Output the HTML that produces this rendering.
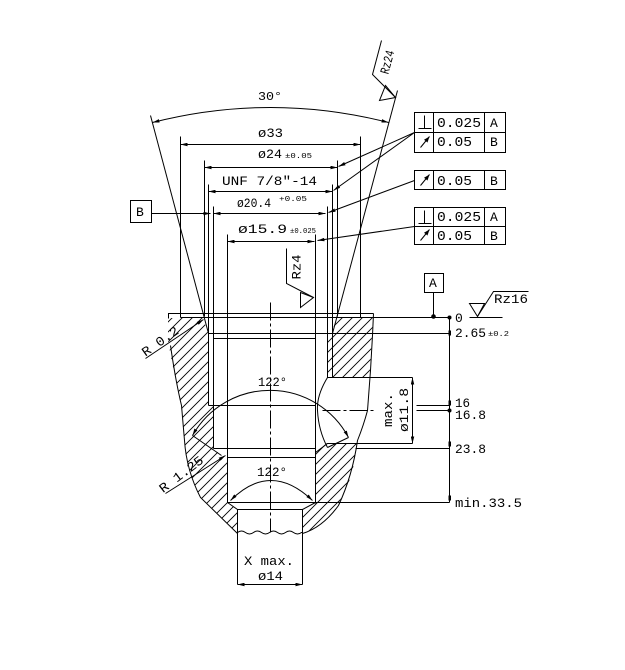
<!DOCTYPE html>
<html><head><meta charset="utf-8"><style>
html,body{margin:0;padding:0;background:#fff;}
svg{display:block;}
text{font-family:"Liberation Mono","DejaVu Sans Mono",monospace;fill:#000;stroke:none;}
</style></head><body>
<svg xmlns="http://www.w3.org/2000/svg" width="625" height="670" viewBox="0 0 625 670">
<defs>
 <marker id="ar" viewBox="0 0 8 4" refX="8" refY="2" markerWidth="7" markerHeight="3.5" orient="auto-start-reverse" markerUnits="userSpaceOnUse"><path d="M0,0L8,2L0,4z" fill="#000"/></marker>
 <marker id="ro" viewBox="0 0 8 6" refX="8" refY="3" markerWidth="6" markerHeight="5" orient="auto" markerUnits="userSpaceOnUse"><path d="M0,0L8,3L0,6z" fill="#000"/></marker>
 <pattern id="hp" patternUnits="userSpaceOnUse" width="10" height="10">
   <path d="M0,10L10,0M-5,5L5,-5M5,15L15,5" stroke="#000" stroke-width="0.9" fill="none"/>
 </pattern>
</defs>
<rect width="625" height="670" fill="#fff"/>

<!-- hatching -->
<path d="M168,318 L203,318 L208,333 L208,405 L213,405 L213,448 L221,455 L227,457 L227,502 L237,509 L237,533 L200,497 L190,473 L186,457 L183,423 L180,397 L172,363 L168,340 Z" fill="url(#hp)"/>
<path d="M336,318 L373,318 L372,335 L370,370 L369,377 L327,377 L327,338 L332,333 Z" fill="url(#hp)"/>
<path d="M315,452 L327,443 L357,443 L352,475 L338,505 L322,527 L302,533 L302,509 L315,502 Z" fill="url(#hp)"/>

<g transform="translate(0.5,0.5)" stroke="#000" stroke-width="1" fill="none">
 <!-- 30 deg arc and cone lines -->
 <path d="M152,122 Q270,92 388,122" marker-start="url(#ar)" marker-end="url(#ar)"/>
 <line x1="150" y1="115" x2="208" y2="333"/>
 <line x1="397" y1="90" x2="332" y2="333"/>
 <!-- Rz24 -->
 <polyline points="381,40 372,74 395,97"/>
 <polygon points="385,85 379,100 395,97"/>

 <!-- dimension lines -->
 <line x1="180" y1="144" x2="360" y2="144" marker-start="url(#ar)" marker-end="url(#ar)"/>
 <line x1="204" y1="167" x2="337" y2="167" marker-start="url(#ar)" marker-end="url(#ar)"/>
 <line x1="208" y1="191" x2="332" y2="191" marker-start="url(#ar)" marker-end="url(#ar)"/>
 <line x1="213" y1="213" x2="325" y2="213" marker-start="url(#ar)" marker-end="url(#ar)"/>
 <line x1="227" y1="241" x2="314" y2="241" marker-start="url(#ar)" marker-end="url(#ar)"/>

 <!-- extension lines -->
 <line x1="180" y1="136" x2="180" y2="317"/>
 <line x1="360" y1="136" x2="360" y2="317"/>
 <line x1="204" y1="160" x2="204" y2="316"/>
 <line x1="337" y1="160" x2="337" y2="316"/>
 <line x1="208" y1="184" x2="208" y2="405"/>
 <line x1="332" y1="184" x2="332" y2="377"/>
 <line x1="213" y1="206" x2="213" y2="448"/>
 <line x1="327" y1="206" x2="327" y2="377"/>
 <line x1="227" y1="234" x2="227" y2="502"/>
 <line x1="315" y1="234" x2="315" y2="503"/>

 <!-- B datum -->
 <rect x="130" y="200" width="21" height="22"/>
 <line x1="151" y1="213" x2="210" y2="213" marker-end="url(#ar)"/>

 <!-- GD&T frames -->
 <rect x="414" y="112" width="91" height="40"/>
 <line x1="414" y1="132" x2="505" y2="132"/>
 <line x1="433" y1="112" x2="433" y2="152"/>
 <line x1="484" y1="112" x2="484" y2="152"/>
 <rect x="414" y="170" width="91" height="19"/>
 <line x1="433" y1="170" x2="433" y2="189"/>
 <line x1="484" y1="170" x2="484" y2="189"/>
 <rect x="414" y="207" width="91" height="37"/>
 <line x1="414" y1="226" x2="505" y2="226"/>
 <line x1="433" y1="207" x2="433" y2="244"/>
 <line x1="484" y1="207" x2="484" y2="244"/>
 <!-- symbols -->
 <path d="M424,115 L424,128 M418,128 L431,128"/>
 <path d="M424,210 L424,223 M418,223 L431,223"/>
 <line x1="420" y1="147" x2="429" y2="136" marker-end="url(#ro)"/>
 <line x1="420" y1="185" x2="429" y2="174" marker-end="url(#ro)"/>
 <line x1="420" y1="240" x2="429" y2="229" marker-end="url(#ro)"/>
 <!-- leaders -->
 <line x1="414" y1="132" x2="338" y2="166" marker-end="url(#ar)"/>
 <line x1="414" y1="132" x2="333" y2="190" marker-end="url(#ar)"/>
 <line x1="414" y1="180" x2="328" y2="212" marker-end="url(#ar)"/>
 <line x1="414" y1="226" x2="317" y2="240" marker-end="url(#ar)"/>

 <!-- Rz4 inner -->
 <polyline points="286,248 286,283 313,297"/>
 <polygon points="300,292 300,307 313,297"/>

 <!-- A datum -->
 <rect x="424" y="273" width="19" height="19"/>
 <line x1="433" y1="292" x2="433" y2="315"/>
 <circle cx="433" cy="316" r="1.8" fill="#000"/>

 <!-- Rz16 -->
 <polygon points="469,303 484,303 477,316"/>
 <polyline points="477,316 493,291 528,291"/>
 <line x1="469" y1="317" x2="502" y2="317"/>

 <!-- body top -->
 <path d="M168,318 L168,313 L373,313"/>
 <line x1="180" y1="317" x2="449" y2="317"/>
 <line x1="208" y1="333" x2="449" y2="333"/>
 <line x1="213" y1="338" x2="315" y2="338"/>
 <line x1="208" y1="405" x2="315" y2="405"/>
 <line x1="213" y1="448" x2="315" y2="448"/>
 <line x1="355" y1="448" x2="449" y2="448"/>
 <line x1="227" y1="457" x2="315" y2="457"/>
 <line x1="227" y1="502" x2="449" y2="502"/>

 <!-- outer profiles -->
 <path d="M170,345 Q175,380 181,405 L184,440 Q186,470 200,497 L237,533"/>
 <path d="M373,313 L372,335 L370,370 L367,410 Q363,425 357,440 Q352,475 338,505 Q322,527 302,533"/>

 <!-- cross hole -->
 <line x1="327" y1="377" x2="412" y2="377"/>
 <line x1="327" y1="443" x2="412" y2="443"/>
 <line x1="412" y1="377" x2="412" y2="443" marker-start="url(#ar)" marker-end="url(#ar)"/>
 <path d="M327,377 Q316,395 317,410 Q318,430 327,447"/>
 <line x1="322" y1="410" x2="376" y2="410" stroke-dasharray="18,3,3,3"/>
 <line x1="315" y1="452" x2="327" y2="443"/>

 <!-- 16 / 16.8 -->
 <line x1="416" y1="405" x2="449" y2="405"/>
 <line x1="416" y1="410" x2="449" y2="410"/>
 <!-- vertical dim -->
 <line x1="449" y1="317" x2="449" y2="502"/>
 <g fill="#000" stroke="none">
  <circle cx="449" cy="317" r="2"/>
  <rect x="448" y="330" width="2.5" height="5"/>
  <rect x="448" y="400" width="2.5" height="5"/>
  <circle cx="449" cy="410" r="2"/>
  <rect x="448" y="441" width="2.5" height="5"/>
  <rect x="448" y="495" width="2.5" height="5"/>
 </g>

 <!-- center line -->
 <line x1="270" y1="302" x2="270" y2="532" stroke-dasharray="18,3,3,3"/>

 <!-- 122 arcs -->
 <path d="M192,435 A89,89 0 0 1 348,437" marker-start="url(#ar)" marker-end="url(#ar)"/>
 <line x1="192" y1="435" x2="221" y2="455"/>
 <line x1="348" y1="437" x2="327" y2="447"/>
 <path d="M230,500 Q270,460 312,500" marker-start="url(#ar)" marker-end="url(#ar)"/>

 <!-- R leaders -->
 <line x1="145" y1="358" x2="203" y2="319" marker-end="url(#ar)"/>
 <line x1="165" y1="493" x2="225" y2="455" marker-end="url(#ar)"/>

 <!-- pin -->
 <line x1="227" y1="502" x2="237" y2="509"/>
 <line x1="315" y1="502" x2="302" y2="509"/>
 <line x1="237" y1="509" x2="302" y2="509"/>
 <line x1="237" y1="509" x2="237" y2="584"/>
 <line x1="302" y1="509" x2="302" y2="584"/>
 <path d="M237,532 Q241,529 245,532 T253,532 T261,532 T269,532 T277,532 T285,532 T293,532 T301,532 L302,532"/>
 <line x1="237" y1="584" x2="302" y2="584" marker-start="url(#ar)" marker-end="url(#ar)"/>
</g>

<!-- texts -->
<g font-size="13">
 <text x="258" y="100" font-size="12" textLength="24" lengthAdjust="spacingAndGlyphs">30°</text>
 <text x="258" y="137" textLength="25" lengthAdjust="spacingAndGlyphs">ø33</text>
 <text x="258" y="158" textLength="24" lengthAdjust="spacingAndGlyphs">ø24</text>
 <text x="285" y="158" font-size="7" textLength="27" lengthAdjust="spacingAndGlyphs">±0.05</text>
 <text x="222" y="185" textLength="95" lengthAdjust="spacingAndGlyphs">UNF 7/8"-14</text>
 <text x="237" y="207" textLength="34" lengthAdjust="spacingAndGlyphs">ø20.4</text>
 <text x="279" y="201" font-size="7" textLength="28" lengthAdjust="spacingAndGlyphs">+0.05</text>
 <text x="238" y="233" textLength="49" lengthAdjust="spacingAndGlyphs">ø15.9</text>
 <text x="290" y="233" font-size="7" textLength="26" lengthAdjust="spacingAndGlyphs">±0.025</text>

 <text x="437" y="127" font-size="14" textLength="44" lengthAdjust="spacingAndGlyphs">0.025</text>
 <text x="490" y="127" font-size="13">A</text>
 <text x="437" y="146" font-size="14" textLength="35" lengthAdjust="spacingAndGlyphs">0.05</text>
 <text x="490" y="146" font-size="13">B</text>
 <text x="437" y="185" font-size="14" textLength="35" lengthAdjust="spacingAndGlyphs">0.05</text>
 <text x="490" y="185" font-size="13">B</text>
 <text x="437" y="221" font-size="14" textLength="44" lengthAdjust="spacingAndGlyphs">0.025</text>
 <text x="490" y="221" font-size="13">A</text>
 <text x="437" y="240" font-size="14" textLength="35" lengthAdjust="spacingAndGlyphs">0.05</text>
 <text x="490" y="240" font-size="13">B</text>

 <text x="136" y="216" font-size="13">B</text>
 <text x="429" y="287" font-size="13">A</text>

 <text x="494" y="303" textLength="34" lengthAdjust="spacingAndGlyphs">Rz16</text>
 <text x="455" y="322">0</text>
 <text x="455" y="337" textLength="31" lengthAdjust="spacingAndGlyphs">2.65</text>
 <text x="488" y="336" font-size="7" textLength="21" lengthAdjust="spacingAndGlyphs">±0.2</text>
 <text x="455" y="407" textLength="15" lengthAdjust="spacingAndGlyphs">16</text>
 <text x="455" y="419" textLength="31" lengthAdjust="spacingAndGlyphs">16.8</text>
 <text x="455" y="453" textLength="31" lengthAdjust="spacingAndGlyphs">23.8</text>
 <text x="455" y="507" textLength="67" lengthAdjust="spacingAndGlyphs">min.33.5</text>

 <text x="258" y="386" textLength="29" lengthAdjust="spacingAndGlyphs">122°</text>
 <text x="257" y="476" textLength="30" lengthAdjust="spacingAndGlyphs">122°</text>

 <text x="244" y="565" textLength="50" lengthAdjust="spacingAndGlyphs">X max.</text>
 <text x="258" y="580" textLength="25" lengthAdjust="spacingAndGlyphs">ø14</text>

 <text transform="translate(389,410) rotate(-90)" x="0" y="3" text-anchor="middle" textLength="34" lengthAdjust="spacingAndGlyphs">max.</text>
 <text transform="translate(403.5,410) rotate(-90)" x="0" y="4.5" text-anchor="middle" textLength="44" lengthAdjust="spacingAndGlyphs">ø11.8</text>
 <text transform="translate(296,267) rotate(-90)" x="0" y="4.5" text-anchor="middle" textLength="25" lengthAdjust="spacingAndGlyphs">Rz4</text>
 <text transform="translate(387,62) rotate(-75)" x="0" y="4.5" text-anchor="middle" textLength="24" lengthAdjust="spacingAndGlyphs">Rz24</text>
 <text transform="translate(160,341) rotate(-35)" x="0" y="4.5" text-anchor="middle" textLength="42" lengthAdjust="spacingAndGlyphs">R 0.2</text>
 <text transform="translate(181,474) rotate(-37)" x="0" y="4.5" text-anchor="middle" textLength="52" lengthAdjust="spacingAndGlyphs">R 1.25</text>
</g>
</svg>
</body></html>
